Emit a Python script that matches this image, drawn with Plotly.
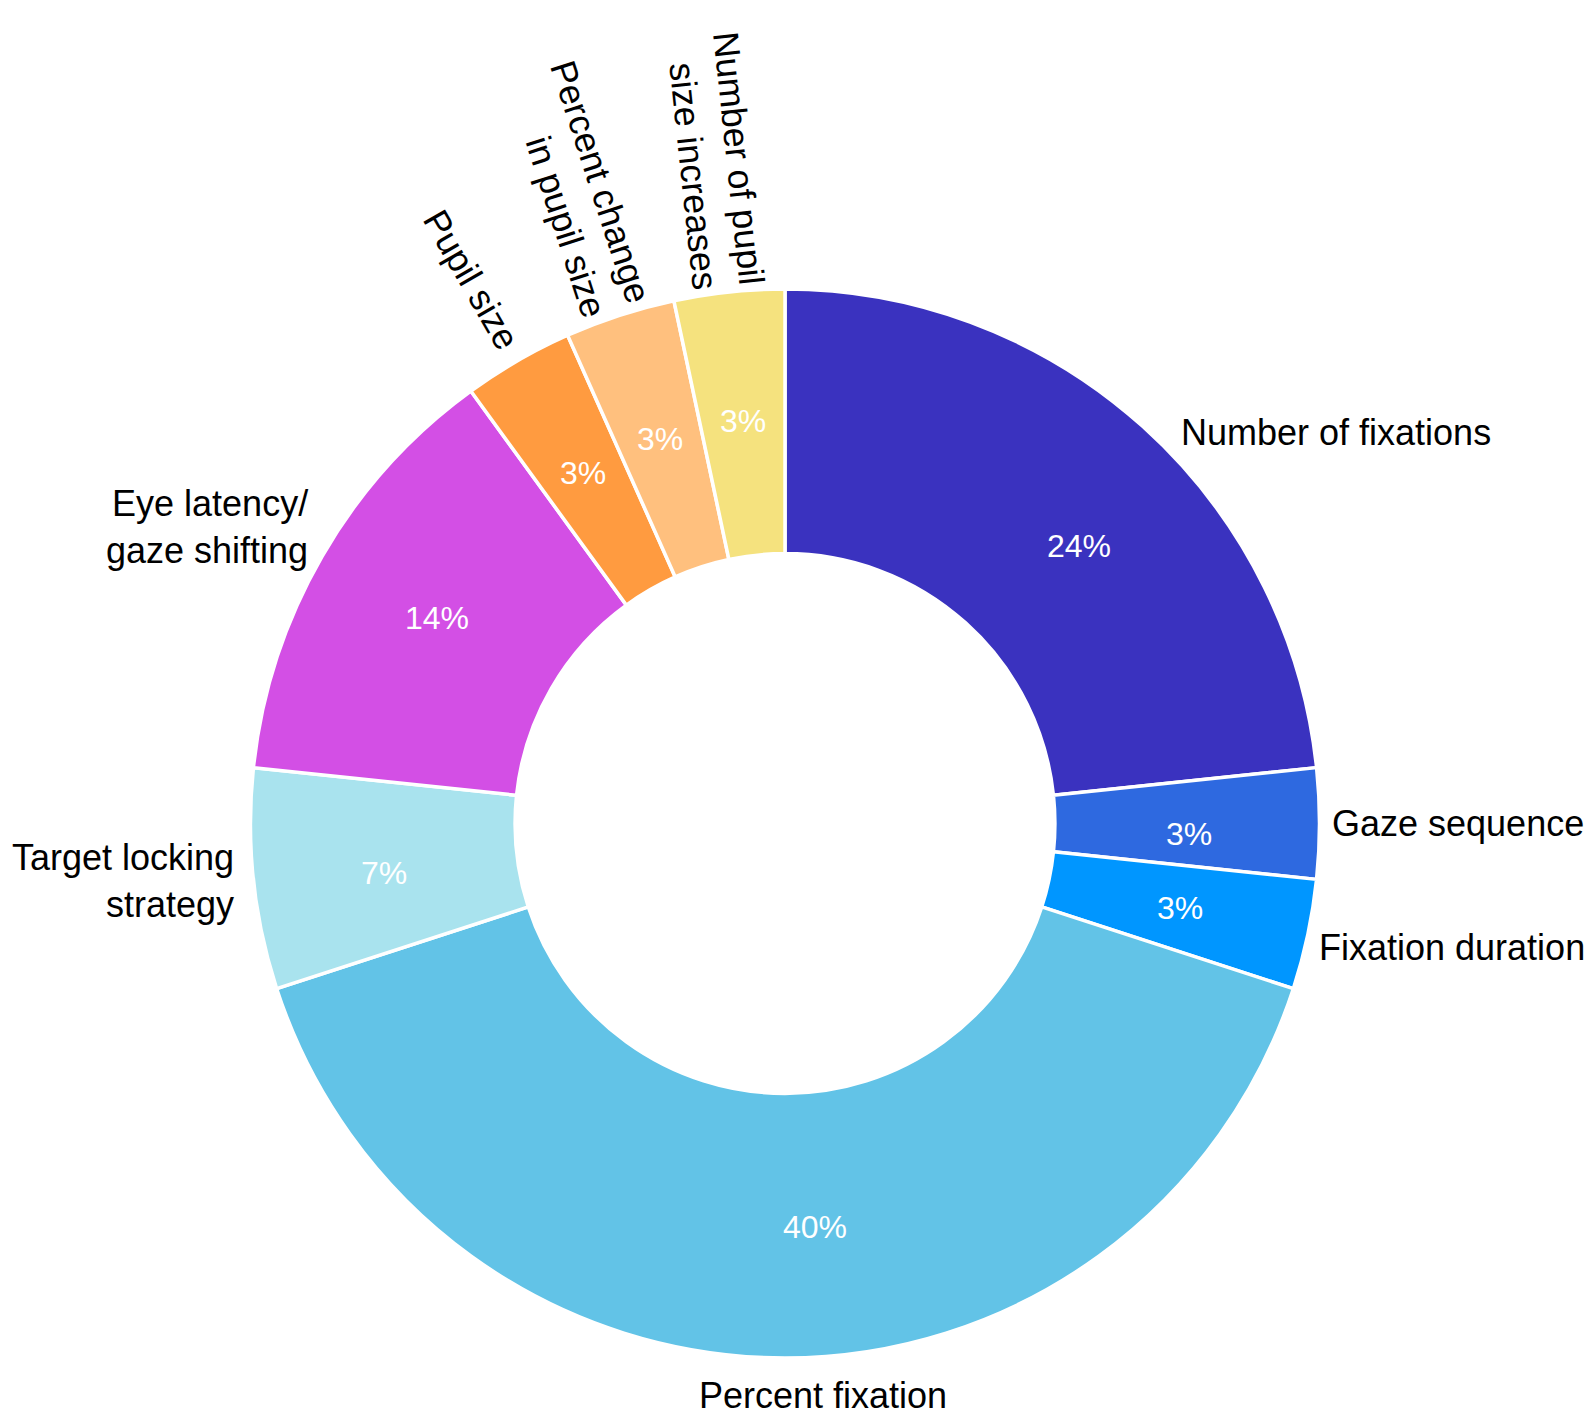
import math
import plotly.graph_objects as go

# data (counts, shown percent labels)
categories = ["Number of fixations", "Gaze sequence", "Fixation duration",
              "Percent fixation", "Target locking strategy",
              "Eye latency/gaze shifting", "Pupil size",
              "Percent change in pupil size", "Number of pupil size increases"]
label_text = ["Number of fixations", "Gaze sequence", "Fixation duration",
              "Percent fixation", "Target locking<br>strategy",
              "Eye latency/<br>gaze shifting", "Pupil size",
              "Percent change<br>in pupil size", "Number of pupil<br>size increases"]
counts = [7, 1, 1, 12, 2, 4, 1, 1, 1]
pct_labels = ["24%", "3%", "3%", "40%", "7%", "14%", "3%", "3%", "3%"]
colors = ["#3A32BF", "#2E69E0", "#0096FF", "#62C3E7", "#A9E3EE",
          "#D34FE5", "#FF9B40", "#FFC07E", "#F5E27E"]

W, H = 1594, 1421
# page has an 8px body margin, so work in figure px
cx, cy, R = 777, 815.5, 532
FONT = "Liberation Sans, Arial, sans-serif"

# label placement: (mode, distance in R, angle nudge in deg)
label_style = [
    ("left", 1.043, 3.2),
    ("left", 1.024, 0.0),
    ("left", 1.027, 1.1),
    ("center", 1.077, -3.8),
    ("right", 1.037, 0.0),
    ("right", 1.053, 2.0),
    ("rot", 1.18, 0.0),
    ("rot", 1.255, 0.0),
    ("rot", 1.252, 0.0),
]
pct_nudge = [4.6, 1.5, 0.0, -4.2, -1.0, 0.5, 0.0, 0.0, 0.0]


def to_paper(theta, r):
    """angle clockwise from 12 o'clock, radius in px -> paper coords"""
    t = math.radians(theta)
    px = cx + r * math.sin(t)
    py = cy - r * math.cos(t)
    return px / W, 1 - py / H


total = sum(counts)
mids = []
acc = 0
for c in counts:
    mids.append((acc + c / 2) / total * 360)
    acc += c

Rd = R + 2.5  # plotly trims the pie a little inside its domain
fig = go.Figure()
fig.add_trace(go.Pie(
    labels=categories, values=counts, sort=False, direction="clockwise",
    rotation=0, hole=0.505, textinfo="none", hoverinfo="label+percent",
    marker=dict(colors=colors, line=dict(color="white", width=3.5)),
    domain=dict(x=[(cx - Rd) / W, (cx + Rd) / W],
                y=[1 - (cy + Rd) / H, 1 - (cy - Rd) / H]),
    showlegend=False,
))

annotations = []
for i in range(len(counts)):
    # percent inside the ring
    x, y = to_paper(mids[i] + pct_nudge[i], 0.76 * R)
    annotations.append(dict(x=x, y=y, xref="paper", yref="paper",
                            text=pct_labels[i], showarrow=False,
                            xanchor="center", yanchor="middle",
                            font=dict(family=FONT, size=32, color="white")))
    mode, dist, nudge = label_style[i]
    x, y = to_paper(mids[i] + nudge, dist * R)
    ann = dict(x=x, y=y, xref="paper", yref="paper", text=label_text[i],
               showarrow=False, yanchor="middle",
               font=dict(family=FONT, size=36, color="black"))
    if mode == "rot":
        ann.update(xanchor="center", align="right",
                   textangle=mids[i] - 270)
    elif mode == "center":
        ann.update(xanchor="center", align="center")
    else:
        ann.update(xanchor=mode, align=mode)
    annotations.append(ann)

fig.update_layout(
    width=W, height=H,
    margin=dict(l=0, r=0, t=0, b=0),
    paper_bgcolor="white", plot_bgcolor="white",
    annotations=annotations,
)

fig.write_html("out.html")
